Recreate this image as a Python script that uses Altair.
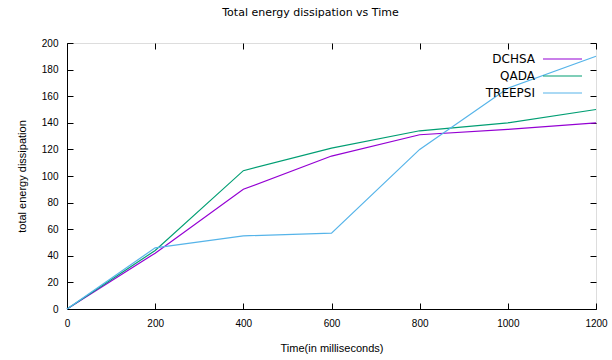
import altair as alt
import pandas as pd

times = [0, 200, 400, 600, 800, 1000, 1200]
dchsa = [0, 42, 90, 115, 131, 135, 140]
qada = [0, 44, 104, 121, 134, 140, 150]
treepsi = [0, 46, 55, 57, 120, 166, 190]
series = ["DCHSA", "QADA", "TREEPSI"]
colors = ["#9400D3", "#009E73", "#56B4E9"]
x_ticks = [0, 200, 400, 600, 800, 1000, 1200]
y_ticks = [0, 20, 40, 60, 80, 100, 120, 140, 160, 180, 200]

rows = []
for name, vals in zip(series, [dchsa, qada, treepsi]):
    for t, v in zip(times, vals):
        rows.append({"time": t, "value": v, "series": name})
df = pd.DataFrame(rows)

W, H = 529, 266
FONT = "DejaVu Sans"
xs = alt.Scale(domain=[0, 1200], nice=False)
ys = alt.Scale(domain=[0, 200], nice=False)
cs = alt.Scale(domain=series, range=colors)

xax = alt.Axis(values=x_ticks, grid=False, ticks=False, labelPadding=9, format="d",
               titlePadding=14, domainColor="black", labelFlush=False, orient="bottom",
               labelOverlap=False, titleFontWeight="normal")
yax = alt.Axis(values=y_ticks, grid=False, ticks=False, labelPadding=9, orient="left",
               titlePadding=14, domainColor="black", labelOverlap=False,
               titleFontWeight="normal")


def tick_axis(vals, orient, offset):
    return alt.Axis(values=vals, grid=False, ticks=True, tickSize=6, tickColor="black",
                    tickWidth=1, labels=False, domain=False, orient=orient,
                    offset=offset, title=None)


lines = alt.Chart(df).mark_line(strokeWidth=1.2).encode(
    x=alt.X("time:Q", scale=xs, title="Time(in milliseconds)", axis=xax),
    y=alt.Y("value:Q", scale=ys, title="total energy dissipation", axis=yax),
    color=alt.Color("series:N", scale=cs, legend=None),
    detail="series:N",
)

# invisible layers that only carry inward-pointing tick axes (gnuplot style)
ticks_a = alt.Chart(df).mark_line(strokeOpacity=0).encode(
    x=alt.X("time:Q", scale=xs, axis=tick_axis(x_ticks, "top", -H)),
    y=alt.Y("value:Q", scale=ys, axis=tick_axis(y_ticks, "right", -W)),
    detail="series:N",
)
ticks_b = alt.Chart(df).mark_line(strokeOpacity=0).encode(
    x=alt.X("time:Q", scale=xs, axis=tick_axis(x_ticks, "bottom", -H)),
    y=alt.Y("value:Q", scale=ys, axis=tick_axis(y_ticks, "left", -W)),
    detail="series:N",
)

layers = [lines, ticks_a, ticks_b]
for i, (name, col) in enumerate(zip(series, colors)):
    ld = pd.DataFrame({"series": [name]})
    ypx = 16 + 17 * i
    layers.append(alt.Chart(ld).mark_text(align="right", baseline="middle", font=FONT,
                                          fontSize=12, color="black").encode(
        x=alt.value(468), y=alt.value(ypx), text="series:N"))
    layers.append(alt.Chart(ld).mark_rule(strokeWidth=1.2, color=col).encode(
        x=alt.value(476), x2=alt.value(515), y=alt.value(ypx)))

chart = alt.layer(*layers).resolve_axis(x="independent", y="independent").properties(
    width=W, height=H,
    title=alt.TitleParams("Total energy dissipation vs Time", font=FONT, fontSize=11,
                          fontWeight="normal", offset=20, dx=-21, color="black"),
    autosize=alt.AutoSizeParams(type="none"),
    padding={"left": 67, "top": 43, "right": 16, "bottom": 51},
).configure_view(stroke="black", strokeWidth=1).configure_axis(
    labelFont=FONT, titleFont=FONT, labelFontSize=12, titleFontSize=12,
    titleFontWeight="normal", labelColor="black", titleColor="black",
).configure(background="white")

chart.save("out.html", embed_options={"renderer": "svg", "actions": False})
